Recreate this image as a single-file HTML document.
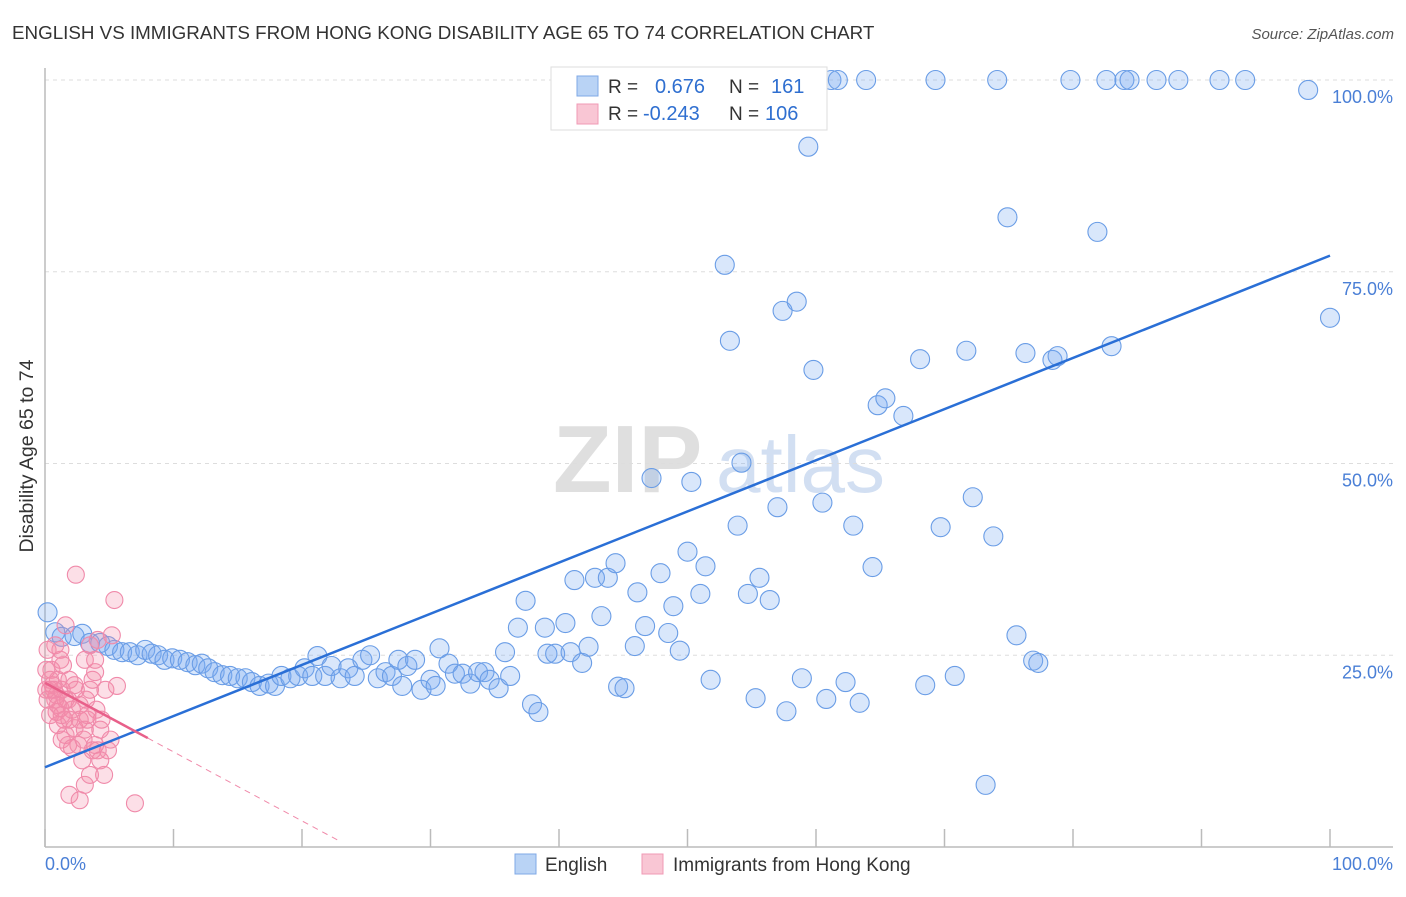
<!DOCTYPE html>
<html><head><meta charset="utf-8"><style>
body{margin:0;background:#fff;font-family:"Liberation Sans",sans-serif;}
svg text{font-family:"Liberation Sans",sans-serif;}
</style></head><body>
<svg id="c" width="1406" height="892" xmlns="http://www.w3.org/2000/svg">
<text x="12" y="39" font-size="18.8" fill="#333">ENGLISH VS IMMIGRANTS FROM HONG KONG DISABILITY AGE 65 TO 74 CORRELATION CHART</text>
<text x="1394" y="39" font-size="15" fill="#555" font-style="italic" text-anchor="end">Source: ZipAtlas.com</text>
<text transform="translate(33,456) rotate(-90)" font-size="19.5" fill="#333" text-anchor="middle">Disability Age 65 to 74</text>
<g><text x="553" y="492" font-size="96" font-family="Liberation Serif,serif" font-weight="bold" fill="#d8d8d8" opacity="0.8">ZIP</text><text x="716" y="492" font-size="80" fill="#c8d8f0" opacity="0.8">atlas</text></g>
<g id="grid"></g><g id="axes"></g><g id="pts"></g><g id="lines"></g>
<g>
<rect x="551" y="67" width="276" height="63" fill="#fff" stroke="#ddd"/>
<rect x="577" y="76" width="21" height="20" fill="#b9d3f5" stroke="#7fa8e6"/>
<rect x="577" y="104" width="21" height="20" fill="#f9c6d4" stroke="#f09ab5"/>
<text x="608" y="93" font-size="19" fill="#333">R =</text><text x="655" y="93" font-size="20" fill="#2f6fd0">0.676</text>
<text x="729" y="93" font-size="19" fill="#333">N =</text><text x="771" y="93" font-size="20" fill="#2f6fd0">161</text>
<text x="608" y="120" font-size="19" fill="#333">R =</text><text x="643" y="120" font-size="20" fill="#2f6fd0">-0.243</text>
<text x="729" y="120" font-size="19" fill="#333">N =</text><text x="765" y="120" font-size="20" fill="#2f6fd0">106</text>
</g>
<g>
<rect x="515" y="854" width="21" height="20" fill="#b9d3f5" stroke="#7fa8e6"/>
<text x="545" y="871" font-size="19" fill="#333">English</text>
<rect x="642" y="854" width="21" height="20" fill="#f9c6d4" stroke="#f09ab5"/>
<text x="673" y="871" font-size="19" fill="#333">Immigrants from Hong Kong</text>
</g>
<text x="45" y="870" font-size="18" fill="#4a7fd6">0.0%</text>
<text x="1393" y="870" font-size="18" fill="#4a7fd6" text-anchor="end">100.0%</text>
</svg>
<script>
const yTicks=[100,75,50,25];
const yTickLabels=["100.0%","75.0%","50.0%","25.0%"];
const xTicks=[0,10,20,30,40,50,60,70,80,90,100];
const englishX=[0.2,0.8,1.3,2.3,2.9,3.5,4.3,4.9,5.4,6.0,6.6,7.2,7.8,8.3,8.8,9.3,9.9,10.5,11.1,11.7,12.2,12.7,13.2,13.8,14.4,15.0,15.6,16.1,16.7,17.4,17.9,18.4,19.1,19.7,20.2,20.8,21.2,21.8,22.3,23.0,23.6,24.1,24.7,25.3,25.9,26.5,27.0,27.5,27.8,28.2,28.8,29.3,30.0,30.4,30.7,31.4,31.9,32.5,33.1,33.7,34.2,34.6,35.3,35.8,36.2,36.8,37.4,37.9,38.4,38.9,39.1,39.7,40.5,40.9,41.2,41.8,42.3,42.8,43.3,43.8,44.4,44.6,45.1,45.9,46.1,46.7,47.2,47.9,48.5,48.9,49.4,50.0,50.3,51.0,51.4,51.8,52.4,52.9,53.3,53.9,54.2,54.7,55.3,55.6,56.4,57.0,57.4,57.7,58.5,58.9,59.4,59.8,60.5,60.8,61.2,61.7,62.3,62.9,63.4,63.9,64.4,64.8,65.4,66.8,68.1,68.5,69.3,69.7,70.8,71.7,72.2,73.2,73.8,74.1,74.9,75.6,76.3,76.9,77.3,78.4,78.8,79.8,81.9,82.6,83.0,84.0,84.4,86.5,88.2,91.4,93.4,98.3,100];
const englishY=[30.6,28.0,27.4,27.5,27.8,26.6,26.6,26.2,25.7,25.4,25.4,25.0,25.7,25.2,25.0,24.4,24.6,24.4,24.1,23.7,23.9,23.3,22.8,22.4,22.3,22.0,22.0,21.5,21.0,21.3,21.0,22.3,22.0,22.3,23.3,22.3,24.9,22.3,23.6,22.0,23.3,22.3,24.4,25.0,22.0,22.8,22.3,24.4,21.0,23.6,24.4,20.5,21.8,21.0,25.9,23.9,22.6,22.6,21.3,22.8,22.8,21.8,20.7,25.4,22.3,28.6,32.1,18.6,17.6,28.6,25.2,25.2,29.2,25.4,34.8,24.0,26.1,35.1,30.1,35.1,37.0,20.9,20.7,26.2,33.2,28.8,48.1,35.7,27.9,31.4,25.6,38.5,47.6,33.0,36.6,21.8,100,75.9,66.0,41.9,50.1,33.0,19.4,35.1,32.2,44.3,69.9,17.7,71.1,22.0,91.3,62.2,44.9,19.3,100,100,21.5,41.9,18.8,100,36.5,57.6,58.5,56.2,63.6,21.1,100,41.7,22.3,64.7,45.6,8.1,40.5,100,82.1,27.6,64.4,24.3,24.0,63.5,64.0,100,80.2,100,65.3,100,100,100,100,100,100,98.7,69.0];
const hkX=[0.2,0.4,0.5,0.8,0.9,1.0,1.2,1.3,1.5,1.6,1.8,1.9,2.1,2.3,2.4,2.4,2.6,2.7,2.9,3.0,3.2,3.3,3.5,3.7,3.9,4.0,4.1,4.3,4.4,4.6,4.7,4.9,5.2,5.4,5.6,1.9,2.7,3.1,3.5,7.0,5.1,4.1,1.6,1.2,0.8,1.0,1.3,1.8,2.1,2.7,3.1,3.3,3.7,3.9,4.3,0.2,0.4,0.6,0.9,1.2,1.4,1.6,1.9,2.3,3.1,3.5,3.9,0.4,0.7,1.0,1.3,0.1,0.1];
const hkY=[25.7,20.5,23.1,19.2,17.6,21.8,24.4,20.5,16.6,14.6,19.2,21.8,17.9,15.5,35.5,20.5,13.3,18.5,11.3,14.0,19.2,16.6,20.5,21.8,22.8,17.9,12.6,15.3,16.6,9.4,20.5,12.6,27.6,32.2,21.0,6.8,6.1,8.1,9.4,5.7,14.0,27.0,28.9,18.1,26.3,15.9,14.0,13.3,12.9,16.6,15.3,17.2,12.6,13.3,11.3,19.2,17.2,21.1,19.8,25.7,23.7,19.2,16.6,21.1,24.4,26.3,24.4,21.8,20.5,18.5,17.2,20.5,23.1];
const blueFit=[10.4,77.1];
const pinkFit=[21.4,-0.9];
const X0=45,X1=1330,Y0=847,Y100=80;
const sx=v=>X0+(X1-X0)*v/100, sy=v=>Y0-(Y0-Y100)*v/100;
const NS="http://www.w3.org/2000/svg";
function mk(t,a,p){const e=document.createElementNS(NS,t);for(const k in a)e.setAttribute(k,a[k]);p.appendChild(e);return e;}
const grid=document.getElementById('grid'),axes=document.getElementById('axes'),pts=document.getElementById('pts'),lines=document.getElementById('lines');
yTicks.forEach((t,i)=>{
 const g=mk('line',{x1:45,x2:1393,y1:sy(t),y2:sy(t),stroke:'#ddd','stroke-dasharray':'4,4'},grid);
 
 
 const l=mk('text',{x:1393,y:sy(t)+23,'font-size':18,fill:'#4a7fd6','text-anchor':'end'},grid);
 l.textContent=yTickLabels[i];
 
 
});
const ax=mk('line',{x1:45,x2:45,y1:68,y2:Y0,stroke:'#bbb','stroke-width':1.5},axes);


const bx=mk('line',{x1:45,x2:1393,y1:Y0,y2:Y0,stroke:'#bbb','stroke-width':1.5},axes);


xTicks.forEach(t=>{
 const k=mk('line',{x1:sx(t),x2:sx(t),y1:829,y2:Y0,stroke:'#bbb','stroke-width':1.5},axes);
 
 
});
englishX.forEach((x,i)=>{
 const c=mk('circle',{cx:sx(x),cy:sy(englishY[i]),r:9.5,fill:'rgba(120,170,240,0.28)',stroke:'#6a9de6','stroke-width':1.1},pts);
 
 
});
hkX.forEach((x,i)=>{
 const c=mk('circle',{cx:sx(x),cy:sy(hkY[i]),r:8.5,fill:'rgba(245,140,170,0.28)',stroke:'#f08aaa','stroke-width':1.1},pts);
 
 
});
const bl=mk('line',{x1:sx(0),y1:sy(blueFit[0]),x2:sx(100),y2:sy(blueFit[1]),stroke:'#2a6fd6','stroke-width':2.5},lines);


const pf=x=>pinkFit[0]+pinkFit[1]*x;
const pl=mk('line',{x1:sx(0),y1:sy(pf(0)),x2:sx(8),y2:sy(pf(8)),stroke:'#e8608a','stroke-width':2.5},lines);


const pd=mk('line',{x1:sx(8),y1:sy(pf(8)),x2:sx(23),y2:sy(pf(23)),stroke:'#f08aaa','stroke-width':1,'stroke-dasharray':'6,5'},lines);


</script>
</body></html>
